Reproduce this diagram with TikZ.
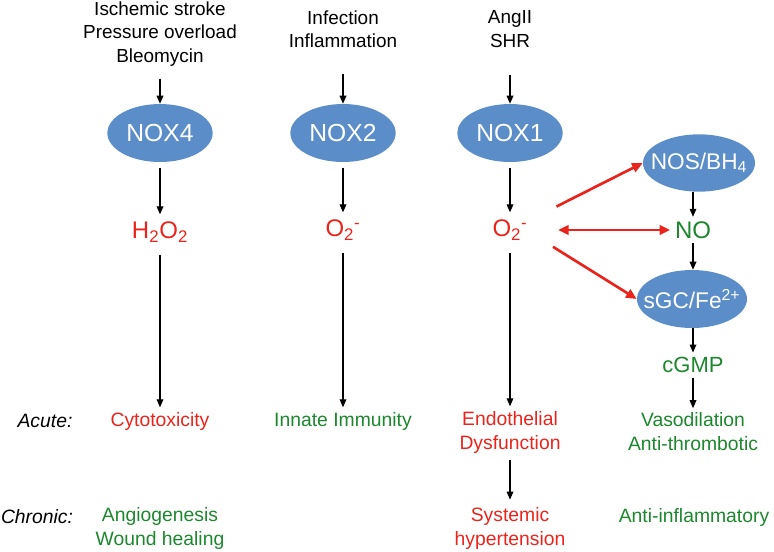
\documentclass[tikz,border=0pt]{standalone}
\usepackage{fontspec}
\setmainfont{Liberation Sans}
\usetikzlibrary{shapes.geometric,arrows.meta}

\definecolor{noxblue}{RGB}{91,141,201}
\definecolor{rosred}{RGB}{234,36,28}
\definecolor{nogreen}{RGB}{28,135,45}

% Text ohne Breite, damit die Ellipse ihre feste Groesse behaelt
\newcommand{\enz}[1]{\makebox[0pt]{#1}}

\tikzset{
  nox/.style={ellipse, fill=noxblue, text=white, inner sep=0pt,
    minimum width=79pt, minimum height=43.5pt, font=\fontsize{18.5}{22}\selectfont},
  cause/.style={align=center, font=\fontsize{14.2}{17.4}\selectfont},
  ros/.style={text=rosred, font=\fontsize{18}{22}\selectfont},
  bad/.style={text=rosred, align=center, font=\fontsize{14.5}{18}\selectfont},
  good/.style={text=nogreen, align=center, font=\fontsize{14.5}{18}\selectfont},
  phase/.style={font=\fontsize{14.5}{18}\selectfont\itshape},
  arr/.style={-{Triangle[length=6pt,width=5pt]}, line width=0.9pt},
  redarr/.style={-{Triangle[length=8pt,width=7pt]}, rosred, line width=2pt}
}

\begin{document}
\begin{tikzpicture}[x=0.75pt, y=-0.75pt]
    \useasboundingbox (0,0) rectangle (774,551);

    % Ursachen
    \node[cause] (in4) at (160,34) {Ischemic stroke\\Pressure overload\\Bleomycin};
    \node[cause] (in2) at (343,29) {Infection\\Inflammation};
    \node[cause] (in1) at (510,29) {AngII\\SHR};

    % NOX-Isoformen
    \node[nox] (nox4) at (160,133) {\enz{NOX4}};
    \node[nox] (nox2) at (343,133) {\enz{NOX2}};
    \node[nox] (nox1) at (510,133) {\enz{NOX1}};

    % ROS
    \node[ros] (h2o2) at (160,232) {H\textsubscript{2}O\textsubscript{2}};
    \node[ros] (o2b) at (343,230) {O\textsubscript{2}\textsuperscript{-}};
    \node[ros] (o2c) at (510,230) {O\textsubscript{2}\textsuperscript{-}};

    % NO-Signalweg
    \node[nox, minimum width=84pt, minimum height=43pt, font=\fontsize{17}{20}\selectfont]
      (nos) at (699,163) {\enz{NOS/BH\textsubscript{4}}};
    \node[text=nogreen, font=\fontsize{18}{22}\selectfont] (no) at (693,230) {NO};
    \node[nox, minimum width=82.5pt, font=\fontsize{17}{20}\selectfont]
      (sgc) at (692,299) {\enz{sGC/Fe\textsuperscript{2+}}};
    \node[good, font=\fontsize{16.5}{20}\selectfont] (cgmp) at (693,365) {cGMP};

    % Akut / chronisch
    \node[phase] (acute) at (45,421) {Acute:};
    \node[phase] (chronic) at (37,517) {Chronic:};
    \node[bad] (cyto) at (160,421) {Cytotoxicity};
    \node[good] (immun) at (343,421) {Innate Immunity};
    \node[bad] (endo) at (510,432) {Endothelial\\Dysfunction};
    \node[good] (vaso) at (693,432) {Vasodilation\\Anti-thrombotic};
    \node[good] (angio) at (160,528) {Angiogenesis\\Wound healing};
    \node[bad] (hyper) at (510,528) {Systemic\\hypertension};
    \node[good] (antiinf) at (694,517) {Anti-inflammatory};

    % Pfeile
    \draw[arr, shorten <=6pt] (in4) -- (nox4);
    \draw[arr, shorten <=16pt] (in2) -- (nox2);
    \draw[arr, shorten <=17pt] (in1) -- (nox1);
    \draw[arr, shorten <=4pt, shorten >=2pt] (nox4) -- (h2o2);
    \draw[arr, shorten <=4pt, shorten >=2pt] (nox2) -- (o2b);
    \draw[arr, shorten <=4pt, shorten >=2pt] (nox1) -- (o2c);
    \draw[arr, shorten <=6pt] (h2o2) -- (cyto);
    \draw[arr, shorten <=6pt] (o2b) -- (immun);
    \draw[arr, shorten <=6pt] (o2c) -- (endo);
    \draw[arr, shorten <=2pt, shorten >=2pt] (endo) -- (hyper);
    \draw[arr] (no.north |- nos.south) -- (no);
    \draw[arr] (no) -- (no.south |- sgc.north);
    \draw[arr] (cgmp.north |- sgc.south) -- (cgmp);
    \draw[arr] (cgmp) -- (vaso);

    % rote Pfeile
    \draw[redarr, shorten <=39pt] (o2c.center) -- (nos.west);
    \draw[redarr, {Triangle[length=8pt,width=7pt]}-{Triangle[length=8pt,width=7pt]}, shorten <=36pt] (o2c.center) -- (no);
    \draw[redarr, shorten <=38pt] ([yshift=7.5pt]o2c.center) -- (sgc.west);
\end{tikzpicture}
\end{document}
